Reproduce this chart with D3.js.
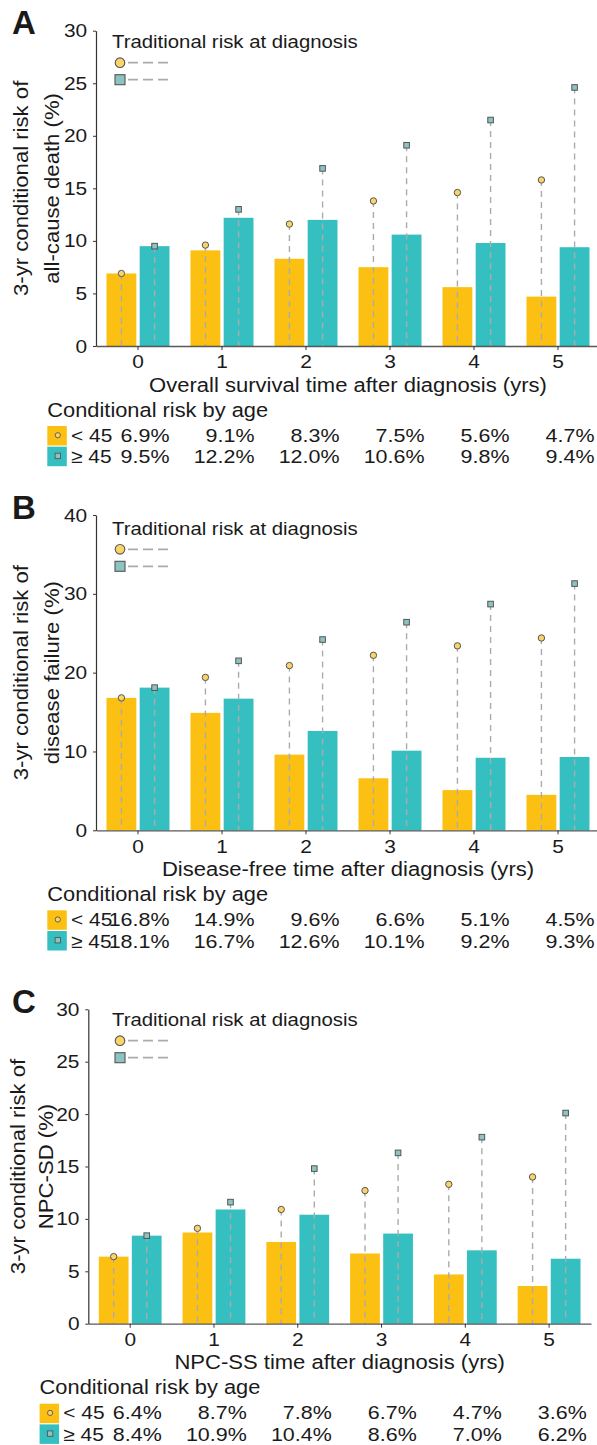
<!DOCTYPE html>
<html>
<head>
<meta charset="utf-8">
<script src="https://cdn.jsdelivr.net/npm/d3@7"></script>
<style>
  html, body { margin: 0; padding: 0; background: #fff; }
  svg text { font-family: 'Liberation Sans', Arial, Helvetica, sans-serif; fill: #1a1a1a; }
</style>
</head>
<body>
<svg id="chart" width="597" height="1445"></svg>
<script>
// ---------------- DATA ----------------
const categories = [0, 1, 2, 3, 4, 5];
const groupLabels = ["< 45", "\u2265 45"];

// Panel A: all-cause death
const aUnder45 = [6.9, 9.1, 8.3, 7.5, 5.6, 4.7];
const aOver45 = [9.5, 12.2, 12.0, 10.6, 9.8, 9.4];
const aTradUnder45 = [6.9, 9.6, 11.6, 13.8, 14.6, 15.8];
const aTradOver45 = [9.5, 13.0, 16.9, 19.1, 21.5, 24.6];
const aYTicks = [0, 5, 10, 15, 20, 25, 30];

// Panel B: disease failure
const bUnder45 = [16.8, 14.9, 9.6, 6.6, 5.1, 4.5];
const bOver45 = [18.1, 16.7, 12.6, 10.1, 9.2, 9.3];
const bTradUnder45 = [16.8, 19.4, 20.9, 22.2, 23.4, 24.4];
const bTradOver45 = [18.1, 21.5, 24.2, 26.4, 28.7, 31.3];
const bYTicks = [0, 10, 20, 30, 40];

// Panel C: NPC-SD
const cUnder45 = [6.4, 8.7, 7.8, 6.7, 4.7, 3.6];
const cOver45 = [8.4, 10.9, 10.4, 8.6, 7.0, 6.2];
const cTradUnder45 = [6.4, 9.1, 10.9, 12.7, 13.3, 14.0];
const cTradOver45 = [8.4, 11.6, 14.8, 16.3, 17.8, 20.1];
const cYTicks = [0, 5, 10, 15, 20, 25, 30];

// ---------------- STYLE / LAYOUT ----------------
const ORANGE = "#FCC013", TEAL = "#36BFC1";
const MK_ORANGE = "#F9D466", MK_TEAL = "#8DC4C2", MK_STROKE = "#555";
const DASH = "#ababab";

const panels = [
  { letter: "A", under: aUnder45, over: aOver45, tU: aTradUnder45, tO: aTradOver45, ticks: aYTicks,
    yTitle: ["3-yr conditional risk of", "all-cause death (%)"],
    xTitle: "Overall survival time after diagnosis (yrs)",
    layout: { x0: 96, x1: 600, yTop: 30.7, yBot: 346, legY: 62.7, yt: [28, 58.5] } },
  { letter: "B", under: bUnder45, over: bOver45, tU: bTradUnder45, tO: bTradOver45, ticks: bYTicks,
    yTitle: ["3-yr conditional risk of", "disease failure (%)"],
    xTitle: "Disease-free time after diagnosis (yrs)",
    layout: { x0: 96, x1: 600, yTop: 515, yBot: 830.3, legY: 549.3, yt: [28, 58.5] } },
  { letter: "C", under: cUnder45, over: cOver45, tU: cTradUnder45, tO: cTradOver45, ticks: cYTicks,
    yTitle: ["3-yr conditional risk of", "NPC-SD (%)"],
    xTitle: "NPC-SS time after diagnosis (yrs)",
    layout: { x0: 88.3, x1: 591, yTop: 1009.3, yBot: 1323.7, legY: 1040.7, yt: [25, 53] } }
];

const svg = d3.select("#chart");

function stxt(sel, x, y, s, o = {}) {
  const t = sel.append("text")
    .attr("transform", `translate(${x},${y})${o.rot ? " rotate(-90)" : ""} scale(${o.sx || 1.1},1)`)
    .attr("text-anchor", o.anchor || "start")
    .style("font-size", (o.size || 18.5) + "px")
    .text(s);
  if (o.weight) t.style("font-weight", o.weight);
  return t;
}

const TICK_SX = 1.1;

panels.forEach(p => {
  const L = p.layout;
  const g = svg.append("g");
  const yMax = p.ticks[p.ticks.length - 1];

  const x0 = d3.scaleBand().domain(categories).range([L.x0, L.x1])
    .paddingInner(0.25).paddingOuter(0.125);
  const x1 = d3.scaleBand().domain(["u", "o"]).range([0, x0.bandwidth()]).paddingInner(0.1);
  const y = d3.scaleLinear().domain([0, yMax]).range([L.yBot, L.yTop]);

  const rows = categories.map((c, i) => ({ c, u: p.under[i], o: p.over[i], tu: p.tU[i], to: p.tO[i] }));

  // bars
  g.selectAll(".bu").data(rows).join("rect")
    .attr("x", d => x0(d.c) + x1("u")).attr("width", x1.bandwidth())
    .attr("y", d => y(d.u)).attr("height", d => y(0) - y(d.u)).attr("fill", ORANGE);
  g.selectAll(".bo").data(rows).join("rect")
    .attr("x", d => x0(d.c) + x1("o")).attr("width", x1.bandwidth())
    .attr("y", d => y(d.o)).attr("height", d => y(0) - y(d.o)).attr("fill", TEAL);

  // dashed drop lines
  const cx = (d, k) => x0(d.c) + x1(k) + x1.bandwidth() / 2;
  g.selectAll(".du").data(rows).join("line")
    .attr("x1", d => cx(d, "u")).attr("x2", d => cx(d, "u"))
    .attr("y1", d => y(d.tu)).attr("y2", y(0))
    .attr("stroke", DASH).attr("stroke-width", 1.4).attr("stroke-dasharray", "6,5");
  g.selectAll(".do").data(rows).join("line")
    .attr("x1", d => cx(d, "o")).attr("x2", d => cx(d, "o"))
    .attr("y1", d => y(d.to)).attr("y2", y(0))
    .attr("stroke", DASH).attr("stroke-width", 1.4).attr("stroke-dasharray", "6,5");

  // markers
  g.selectAll(".mu").data(rows).join("circle")
    .attr("cx", d => cx(d, "u")).attr("cy", d => y(d.tu)).attr("r", 3.2)
    .attr("fill", MK_ORANGE).attr("stroke", MK_STROKE).attr("stroke-width", 1);
  const s = 5.6;
  g.selectAll(".mo").data(rows).join("rect")
    .attr("x", d => cx(d, "o") - s / 2).attr("y", d => y(d.to) - s / 2)
    .attr("width", s).attr("height", s)
    .attr("fill", MK_TEAL).attr("stroke", MK_STROKE).attr("stroke-width", 1);

  // axes
  const ya = g.append("g").attr("transform", `translate(${L.x0},0)`)
    .call(d3.axisLeft(y).tickValues(p.ticks).tickSize(3).tickSizeOuter(0).tickPadding(5));
  ya.select(".domain").attr("stroke", "#333").attr("stroke-width", 1.2);
  ya.selectAll(".tick line").attr("stroke", "#333");
  ya.selectAll("text").attr("transform", `scale(${TICK_SX},1)`)
    .style("font-size", "19px").attr("fill", "#1a1a1a").style("font-family", "'Liberation Sans', Arial, sans-serif");

  const xa = g.append("g").attr("transform", `translate(0,${L.yBot})`)
    .call(d3.axisBottom(x0).tickSize(4).tickSizeOuter(0).tickPadding(5));
  xa.select(".domain").attr("stroke", "#222").attr("stroke-opacity", 0.75).attr("stroke-width", 1.3);
  xa.selectAll(".tick line").attr("stroke", "#333");
  xa.selectAll("text").attr("transform", `scale(${TICK_SX},1)`)
    .style("font-size", "19px").attr("fill", "#1a1a1a").style("font-family", "'Liberation Sans', Arial, sans-serif");

  // panel letter
  g.append("text").attr("x", 12).attr("y", L.yTop + 3.6)
    .style("font-size", "33px").style("font-weight", "bold").text(p.letter);

  // y title
  const ym = (L.yTop + L.yBot) / 2;
  stxt(g, L.yt[0], ym, p.yTitle[0], { rot: true, anchor: "middle", size: 20.5, sx: 1.08 });
  stxt(g, L.yt[1], ym, p.yTitle[1], { rot: true, anchor: "middle", size: 20.5, sx: 1.08 });

  // x title
  stxt(g, (L.x0 + L.x1) / 2, L.yBot + 45.7, p.xTitle, { anchor: "middle", size: 19.5, sx: 1.13 });

  // legend (traditional risk)
  stxt(g, 112, L.legY - 14.4, "Traditional risk at diagnosis", { size: 18.5, sx: 1.1 });
  g.append("line").attr("x1", 128).attr("x2", 173).attr("y1", L.legY).attr("y2", L.legY)
    .attr("stroke", DASH).attr("stroke-width", 1.8).attr("stroke-dasharray", "10,5");
  g.append("line").attr("x1", 128).attr("x2", 173).attr("y1", L.legY + 17).attr("y2", L.legY + 17)
    .attr("stroke", DASH).attr("stroke-width", 1.8).attr("stroke-dasharray", "10,5");
  g.append("circle").attr("cx", 120).attr("cy", L.legY).attr("r", 4.8)
    .attr("fill", MK_ORANGE).attr("stroke", MK_STROKE).attr("stroke-width", 1.1);
  g.append("rect").attr("x", 115).attr("y", L.legY + 17 - 5).attr("width", 10).attr("height", 10)
    .attr("fill", MK_TEAL).attr("stroke", MK_STROKE).attr("stroke-width", 1.1);

  // conditional risk table
  const tx = L.x0 - 48.7;
  stxt(g, tx, L.yBot + 70.7, "Conditional risk by age", { size: 19.5, sx: 1.12 });
  const col = d3.scalePoint().domain(categories).range([L.x0 + 73.5, L.x0 + 498.5]);
  const tableRows = [
    { vals: p.under, color: ORANGE, label: groupLabels[0], top: L.yBot + 80, base: L.yBot + 95.7, mk: "c" },
    { vals: p.over, color: TEAL, label: groupLabels[1], top: L.yBot + 100.7, base: L.yBot + 117.3, mk: "s" }
  ];
  tableRows.forEach(r => {
    g.append("rect").attr("x", tx).attr("y", r.top).attr("width", 19.5).attr("height", 19.5).attr("fill", r.color);
    const mx = tx + 10.5, my = r.top + 9.2;
    if (r.mk === "c") {
      g.append("circle").attr("cx", mx).attr("cy", my).attr("r", 2.6)
        .attr("fill", MK_ORANGE).attr("stroke", MK_STROKE).attr("stroke-width", 0.9);
    } else {
      g.append("rect").attr("x", mx - 2.7).attr("y", my - 2.7).attr("width", 5.4).attr("height", 5.4)
        .attr("fill", MK_TEAL).attr("stroke", MK_STROKE).attr("stroke-width", 0.9);
    }
    stxt(g, L.x0 - 25, r.base, r.label, { size: 19, sx: 1.1 });
    r.vals.forEach((v, i) => {
      stxt(g, col(categories[i]), r.base, v.toFixed(1) + "%", { anchor: "end", size: 19, sx: 1.13 });
    });
  });
});
</script>
</body>
</html>
